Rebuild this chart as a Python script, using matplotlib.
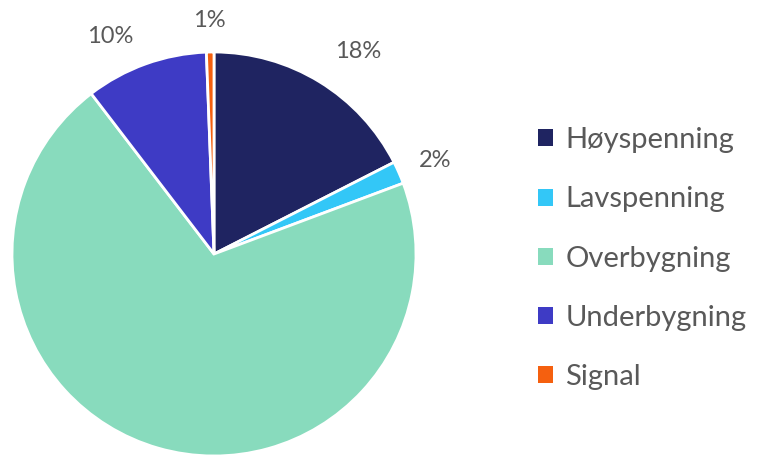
import numpy as np
import matplotlib.pyplot as plt
from matplotlib.patches import Patch

plt.rcParams['font.family'] = ['Lato', 'DejaVu Sans']

categories = ['Høyspenning', 'Lavspenning', 'Overbygning', 'Underbygning', 'Signal']
values = [17.5, 1.8, 70.3, 9.8, 0.6]
pct_labels = ['18%', '2%', '', '10%', '1%']
colors = ['#1F2461', '#33C7F7', '#88DBBD', '#3E3BC5', '#F5600F']

fig = plt.figure(figsize=(7.6, 4.55), dpi=100)
ax = fig.add_axes([12/760, -1/455, 404/760, 404/455])

wedges, _ = ax.pie(values, colors=colors, startangle=90, counterclock=False,
                   wedgeprops=dict(edgecolor='white', linewidth=2))
ax.set_aspect('equal')
ax.set_xlim(-1, 1); ax.set_ylim(-1, 1)

# where the percentage labels sit (pie radius = 1)
label_pos = [(0.713, 1.0), (1.094, 0.465), None, (-0.515, 1.079), (-0.025, 1.158)]
for lab, pos in zip(pct_labels, label_pos):
    if not lab:
        continue
    ax.text(pos[0], pos[1], lab, ha='center', va='center', fontsize=17,
            color='#595959', clip_on=False)

handles = [Patch(facecolor=c, edgecolor='none') for c in colors]
fig.legend(handles, categories, loc='upper left', bbox_to_anchor=(512/760, 1 - 101/455),
           frameon=False, fontsize=21, labelcolor='#595959', handlelength=0.515,
           handleheight=0.515, handletextpad=0.41, labelspacing=1.14)

plt.savefig('out.png', dpi=100)
